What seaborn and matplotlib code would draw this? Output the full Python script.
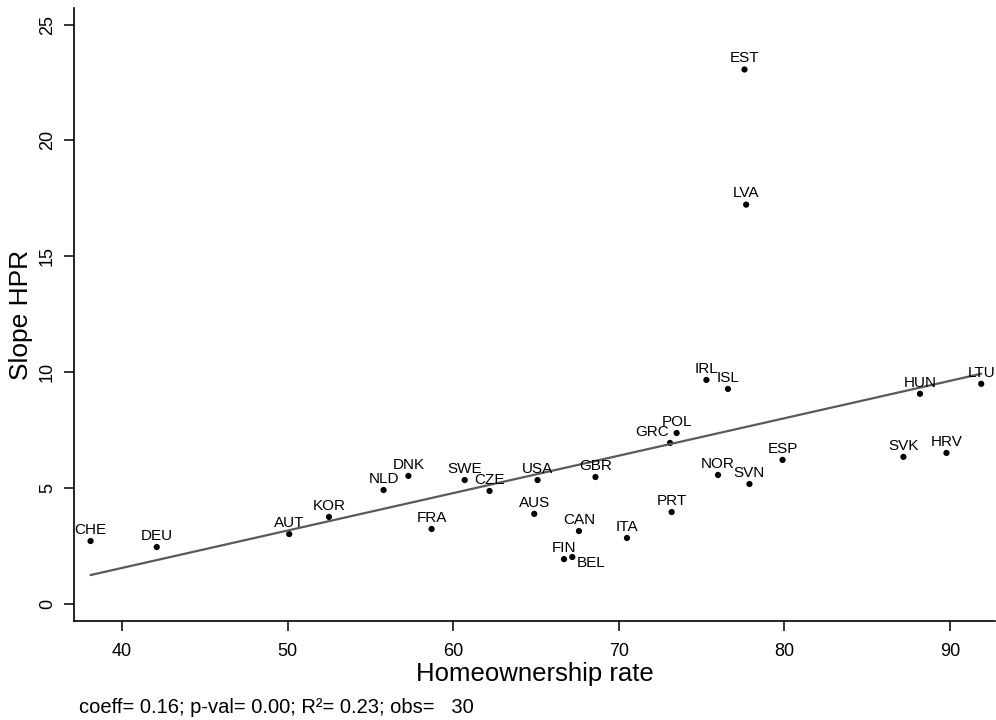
import pandas as pd
import matplotlib.pyplot as plt
import seaborn as sns

countries = ['CHE', 'DEU', 'AUT', 'KOR', 'NLD', 'DNK', 'SWE', 'CZE', 'FRA', 'USA',
             'AUS', 'GBR', 'CAN', 'FIN', 'BEL', 'ITA', 'GRC', 'POL', 'IRL', 'ISL',
             'NOR', 'SVN', 'ESP', 'PRT', 'HUN', 'LTU', 'SVK', 'HRV', 'EST', 'LVA']
ownership = [38.1, 42.1, 50.1, 52.5, 55.8, 57.3, 60.7, 62.2, 58.7, 65.1,
             64.9, 68.6, 67.6, 66.7, 67.2, 70.5, 73.1, 73.5, 75.3, 76.6,
             76.0, 77.9, 79.9, 73.2, 88.2, 91.9, 87.2, 89.8, 77.6, 77.7]
slope_hpr = [2.72, 2.46, 3.02, 3.76, 4.92, 5.53, 5.35, 4.88, 3.24, 5.35,
             3.89, 5.48, 3.15, 1.94, 2.03, 2.85, 6.95, 7.38, 9.67, 9.28,
             5.57, 5.18, 6.22, 3.97, 9.07, 9.50, 6.35, 6.52, 23.06, 17.23]

df = pd.DataFrame({'country': countries, 'x': ownership, 'y': slope_hpr})

sns.set_style('ticks')
plt.rcParams['font.family'] = ['Liberation Sans', 'DejaVu Sans']
plt.rcParams['text.color'] = 'black'
plt.rcParams['axes.labelcolor'] = 'black'
plt.rcParams['xtick.color'] = 'black'
plt.rcParams['ytick.color'] = 'black'
plt.rcParams['axes.edgecolor'] = 'black'

fig = plt.figure(figsize=(9.96, 7.2), dpi=100)
ax = fig.add_axes([0.0743, 0.1375, 0.925, 0.851])

sns.regplot(data=df, x='x', y='y', scatter=False, ci=None, truncate=True,
            color='#5a5a5a', line_kws={'linewidth': 1.6}, ax=ax)
sns.scatterplot(data=df, x='x', y='y', color='black', s=20, edgecolor='none', ax=ax)

# label placement: default above, a few moved to avoid overlap
special = {'GRC': ((-1, 3), 'right', 'bottom'),
           'BEL': ((3, -4), 'left', 'center')}
for _, r in df.iterrows():
    off, ha, va = special.get(r['country'], ((0, 3), 'center', 'bottom'))
    ax.annotate(r['country'], (r['x'], r['y']), xytext=off, textcoords='offset points',
                ha=ha, va=va, fontsize=11, color='black')

ax.set_xlim(37.1, 92.75)
ax.set_ylim(-0.73, 25.7)
ax.set_xticks([40, 50, 60, 70, 80, 90])
ax.set_yticks([0, 5, 10, 15, 20, 25])
ax.tick_params(axis='both', length=7, width=1.1, labelsize=13, direction='out')
ax.tick_params(axis='x', pad=9)
ax.tick_params(axis='y', pad=6)
for lab in ax.get_yticklabels():
    lab.set_rotation(90)
    lab.set_va('center')
ax.set_xlabel('Homeownership rate', fontsize=18.5, labelpad=1)
ax.set_ylabel('Slope HPR', fontsize=19, labelpad=4)
sns.despine(ax=ax)
for sp in ['left', 'bottom']:
    ax.spines[sp].set_linewidth(1.2)

fig.text(0.079, 0.0097, 'coeff= 0.16; p-val= 0.00; R\u00b2= 0.23; obs=   30',
         fontsize=14.5, va='baseline')

fig.savefig('out.png', dpi=100)
